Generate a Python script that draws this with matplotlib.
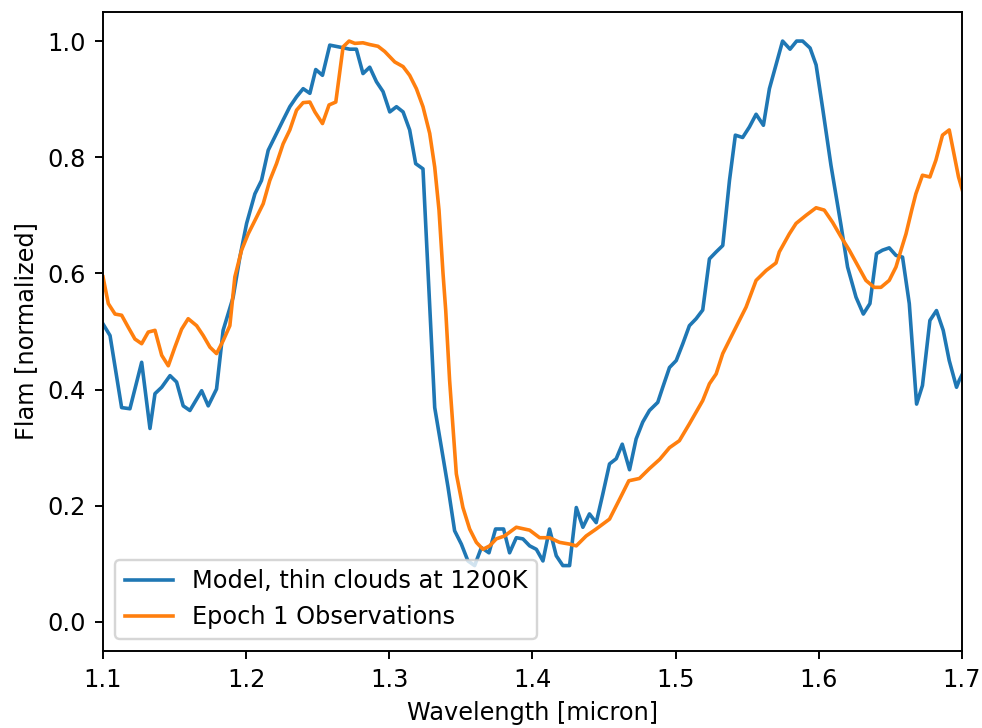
import matplotlib
matplotlib.use("Agg")
import matplotlib.pyplot as plt

# Model spectrum, thin clouds at 1200K (normalized)
wl_model = [1.1000, 1.1049, 1.1130, 1.1188, 1.1270, 1.1328, 1.1363, 1.1410, 1.1468, 1.1514,
            1.1560, 1.1607, 1.1689, 1.1735, 1.1793, 1.1839, 1.1909, 1.1956, 1.2003, 1.2061,
            1.2107, 1.2154, 1.2200, 1.2258, 1.2305, 1.2352, 1.2398, 1.2445, 1.2486, 1.2533,
            1.2584, 1.2666, 1.2724, 1.2770, 1.2816, 1.2863, 1.2910, 1.2956, 1.3003, 1.3050,
            1.3096, 1.3142, 1.3184, 1.3235, 1.3317, 1.3364, 1.3410, 1.3456, 1.3503, 1.3549,
            1.3596, 1.3643, 1.3696, 1.3742, 1.3798, 1.3840, 1.3887, 1.3933, 1.3980, 1.4027,
            1.4073, 1.4119, 1.4166, 1.4212, 1.4259, 1.4306, 1.4352, 1.4398, 1.4445, 1.4491,
            1.4538, 1.4585, 1.4627, 1.4678, 1.4724, 1.4770, 1.4817, 1.4875, 1.4910, 1.4957,
            1.5004, 1.5050, 1.5096, 1.5143, 1.5189, 1.5236, 1.5283, 1.5329, 1.5376, 1.5417,
            1.5468, 1.5515, 1.5562, 1.5613, 1.5655, 1.5701, 1.5747, 1.5799, 1.5845, 1.5887,
            1.5939, 1.5981, 1.6027, 1.6085, 1.6155, 1.6201, 1.6260, 1.6311, 1.6357, 1.6403,
            1.6445, 1.6492, 1.6539, 1.6585, 1.6632, 1.6683, 1.6724, 1.6776, 1.6822, 1.6869,
            1.6911, 1.6962, 1.6981, 1.7030]
flux_model = [0.513, 0.493, 0.369, 0.367, 0.447, 0.333, 0.393, 0.404, 0.424, 0.413,
              0.372, 0.364, 0.398, 0.372, 0.401, 0.502, 0.559, 0.628, 0.686, 0.737,
              0.760, 0.812, 0.835, 0.864, 0.887, 0.904, 0.918, 0.910, 0.951, 0.941,
              0.993, 0.989, 0.986, 0.986, 0.944, 0.955, 0.930, 0.913, 0.878, 0.887,
              0.878, 0.847, 0.789, 0.780, 0.369, 0.300, 0.232, 0.157, 0.134, 0.105,
              0.097, 0.128, 0.119, 0.160, 0.160, 0.119, 0.145, 0.143, 0.131, 0.125,
              0.105, 0.160, 0.114, 0.097, 0.097, 0.197, 0.163, 0.186, 0.171, 0.220,
              0.272, 0.281, 0.306, 0.262, 0.315, 0.344, 0.364, 0.378, 0.404, 0.438,
              0.450, 0.479, 0.510, 0.522, 0.537, 0.625, 0.637, 0.648, 0.760, 0.838,
              0.834, 0.852, 0.874, 0.855, 0.918, 0.959, 1.000, 0.986, 1.000, 1.000,
              0.988, 0.959, 0.884, 0.786, 0.683, 0.611, 0.559, 0.530, 0.548, 0.634,
              0.640, 0.644, 0.631, 0.628, 0.548, 0.375, 0.407, 0.519, 0.536, 0.502,
              0.450, 0.404, 0.416, 0.440]

# Epoch 1 observed spectrum (normalized)
wl_obs = [1.1000, 1.1037, 1.1084, 1.1130, 1.1177, 1.1223, 1.1270, 1.1316, 1.1363, 1.1410,
          1.1456, 1.1502, 1.1549, 1.1595, 1.1654, 1.1700, 1.1747, 1.1793, 1.1839, 1.1886,
          1.1921, 1.1968, 1.2014, 1.2073, 1.2119, 1.2165, 1.2212, 1.2258, 1.2305, 1.2352,
          1.2398, 1.2445, 1.2480, 1.2533, 1.2579, 1.2626, 1.2677, 1.2719, 1.2759, 1.2816,
          1.2863, 1.2921, 1.2968, 1.3038, 1.3096, 1.3142, 1.3189, 1.3235, 1.3282, 1.3317,
          1.3347, 1.3375, 1.3394, 1.3421, 1.3468, 1.3514, 1.3561, 1.3608, 1.3654, 1.3701,
          1.3747, 1.3805, 1.3887, 1.3980, 1.4050, 1.4119, 1.4189, 1.4259, 1.4306, 1.4375,
          1.4445, 1.4538, 1.4608, 1.4673, 1.4747, 1.4817, 1.4889, 1.4957, 1.5026, 1.5096,
          1.5189, 1.5236, 1.5283, 1.5329, 1.5398, 1.5492, 1.5562, 1.5632, 1.5701, 1.5724,
          1.5794, 1.5841, 1.5911, 1.5981, 1.6038, 1.6096, 1.6155, 1.6213, 1.6271, 1.6329,
          1.6387, 1.6434, 1.6492, 1.6539, 1.6574, 1.6609, 1.6650, 1.6678, 1.6724, 1.6776,
          1.6818, 1.6864, 1.6911, 1.6976, 1.7030]
flux_obs = [0.594, 0.548, 0.530, 0.528, 0.507, 0.487, 0.479, 0.499, 0.502, 0.459,
            0.441, 0.473, 0.504, 0.522, 0.510, 0.493, 0.473, 0.462, 0.484, 0.510,
            0.594, 0.640, 0.668, 0.697, 0.720, 0.760, 0.789, 0.823, 0.847, 0.881,
            0.894, 0.895, 0.878, 0.858, 0.890, 0.895, 0.990, 1.000, 0.996, 0.997,
            0.994, 0.991, 0.982, 0.964, 0.956, 0.941, 0.918, 0.887, 0.841, 0.783,
            0.709, 0.600, 0.536, 0.416, 0.255, 0.197, 0.160, 0.137, 0.125, 0.131,
            0.143, 0.148, 0.163, 0.158, 0.145, 0.145, 0.137, 0.134, 0.131, 0.148,
            0.160, 0.177, 0.211, 0.243, 0.247, 0.264, 0.280, 0.300, 0.312, 0.341,
            0.381, 0.410, 0.427, 0.462, 0.496, 0.542, 0.588, 0.605, 0.618, 0.637,
            0.668, 0.686, 0.700, 0.713, 0.709, 0.688, 0.663, 0.640, 0.614, 0.588,
            0.576, 0.576, 0.588, 0.611, 0.640, 0.668, 0.710, 0.737, 0.769, 0.766,
            0.795, 0.838, 0.847, 0.766, 0.720]

dpi = 173
fig = plt.figure(figsize=(982 / dpi, 728 / dpi), dpi=dpi)
ax = fig.add_axes([0.1049, 0.1058, 0.8747, 0.8777])

ax.plot(wl_model, flux_model, label="Model, thin clouds at 1200K")
ax.plot(wl_obs, flux_obs, label="Epoch 1 Observations")

ax.set_xlim(1.1, 1.7)
ax.set_ylim(-0.05, 1.05)
ax.set_xlabel("Wavelength [micron]")
ax.set_ylabel("Flam [normalized]")
ax.legend(loc="lower left")

fig.savefig("out.png", dpi=dpi)
